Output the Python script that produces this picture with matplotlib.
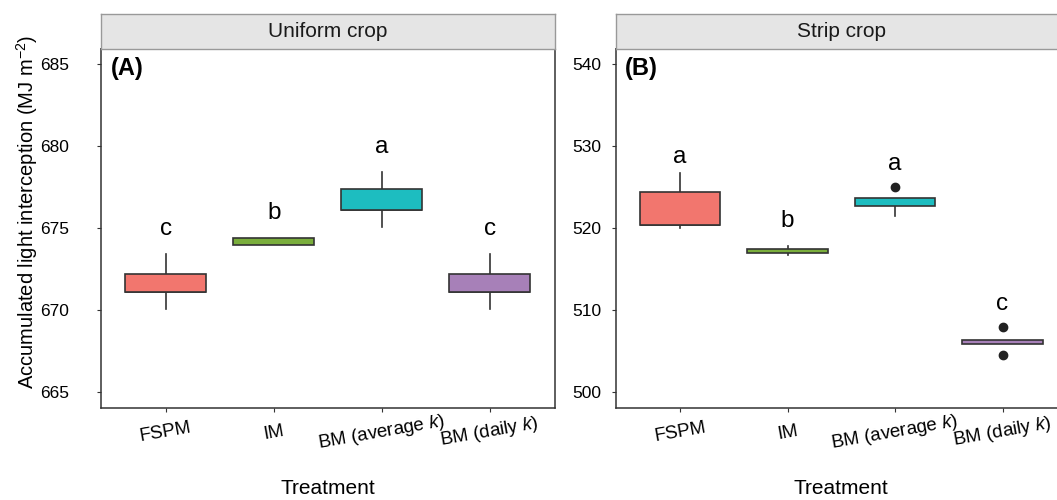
import matplotlib.pyplot as plt

plt.rcParams['font.family'] = ['Liberation Sans', 'DejaVu Sans']
plt.rcParams['mathtext.fontset'] = 'custom'
plt.rcParams['mathtext.rm'] = 'Liberation Sans'
plt.rcParams['mathtext.it'] = 'Liberation Sans:italic'

treatments = ['FSPM', 'IM', r'BM (average $\mathit{k}$)', r'BM (daily $\mathit{k}$)']
colors = ['#F2766E', '#7AAE3C', '#1DBDC0', '#A780B8']

# uniform crop: whisker low, q1, median, q3, whisker high
uni_lo = [670.05, 673.95, 675.08, 670.05]
uni_q1 = [671.12, 673.98, 676.06, 671.12]
uni_med = [671.12, 674.10, 676.06, 671.12]
uni_q3 = [672.20, 674.36, 677.38, 672.20]
uni_hi = [673.40, 674.40, 678.41, 673.40]
uni_out = [[], [], [], []]
uni_letters = ['c', 'b', 'a', 'c']
uni_letter_y = [674.9, 675.9, 679.9, 674.9]

# strip crop
strip_lo = [519.96, 516.67, 521.50, 505.90]
strip_q1 = [520.33, 516.99, 522.72, 505.90]
strip_med = [520.33, 517.20, 523.20, 506.10]
strip_q3 = [524.39, 517.44, 523.62, 506.34]
strip_hi = [526.67, 517.84, 523.62, 506.34]
strip_out = [[], [], [525.04], [507.89, 504.51]]
strip_letters = ['a', 'b', 'a', 'c']
strip_letter_y = [528.7, 520.8, 527.8, 510.7]

W, H = 1057, 500
fig = plt.figure(figsize=(W / 100, H / 100), dpi=100)
dark = '#333333'


def px_axes(x0, x1, y_top, y_bot):
    return fig.add_axes([x0 / W, 1 - y_bot / H, (x1 - x0) / W, (y_bot - y_top) / H])


panels = [
    dict(x0=101, x1=554.5, title='Uniform crop', tag='(A)', ylim=(664.02, 685.9),
         yticks=[665, 670, 675, 680, 685], pad=20,
         lo=uni_lo, q1=uni_q1, med=uni_med, q3=uni_q3, hi=uni_hi, out=uni_out,
         letters=uni_letters, letter_y=uni_letter_y),
    dict(x0=615.7, x1=1067, title='Strip crop', tag='(B)', ylim=(498.05, 541.83),
         yticks=[500, 510, 520, 530, 540], pad=7.5,
         lo=strip_lo, q1=strip_q1, med=strip_med, q3=strip_q3, hi=strip_hi, out=strip_out,
         letters=strip_letters, letter_y=strip_letter_y),
]

for p in panels:
    ax = px_axes(p['x0'], p['x1'], 49, 408)
    stats = []
    for i in range(4):
        stats.append(dict(whislo=p['lo'][i], q1=p['q1'][i], med=p['med'][i],
                          q3=p['q3'][i], whishi=p['hi'][i], fliers=p['out'][i]))
    bp = ax.bxp(stats, positions=[1, 2, 3, 4], widths=0.75, patch_artist=True,
                showcaps=False,
                boxprops=dict(edgecolor=dark, linewidth=1.2),
                whiskerprops=dict(color=dark, linewidth=1.2),
                medianprops=dict(color=dark, linewidth=1.2),
                flierprops=dict(marker='o', markerfacecolor='#222222',
                                markeredgecolor='#222222', markersize=6))
    for patch, c in zip(bp['boxes'], colors):
        patch.set_facecolor(c)
        patch.set_zorder(3)

    for i in range(4):
        ax.text(i + 1, p['letter_y'][i], p['letters'][i], ha='center', va='center',
                fontsize=17.5)

    ax.text(0.021, 0.947, p['tag'], transform=ax.transAxes, fontsize=17,
            fontweight='bold', ha='left', va='center')

    ax.set_xlim(0.4, 4.6)
    ax.set_ylim(*p['ylim'])
    ax.set_yticks(p['yticks'])
    ax.set_xticks([1, 2, 3, 4])
    ax.set_xticklabels(treatments, rotation=10, ha='center', va='center',
                       fontsize=13.5)
    ax.tick_params(axis='x', length=3, color=dark, pad=14.5)
    ax.tick_params(axis='y', length=3, color=dark, labelsize=12.5, pad=p['pad'])
    for s in ax.spines.values():
        s.set_color(dark)
        s.set_linewidth(1.1)

    # facet strip
    sax = px_axes(p['x0'], p['x1'], 13.7, 49)
    sax.set_xticks([])
    sax.set_yticks([])
    sax.set_facecolor('#E5E5E5')
    for s in sax.spines.values():
        s.set_color('#999999')
        s.set_linewidth(1.0)
    sax.text(0.5, 0.5, p['title'], transform=sax.transAxes, ha='center',
             va='center', fontsize=15, color='#1a1a1a')

    fig.text(((p['x0'] + p['x1']) / 2) / W, 1 - 488 / H, 'Treatment',
             ha='center', va='center', fontsize=15)

fig.text(27 / W, 1 - 212 / H, r'Accumulated light interception (MJ m$^{-2}$)',
         rotation=90, ha='center', va='center', fontsize=14.5)

fig.savefig('out.png', dpi=100)
